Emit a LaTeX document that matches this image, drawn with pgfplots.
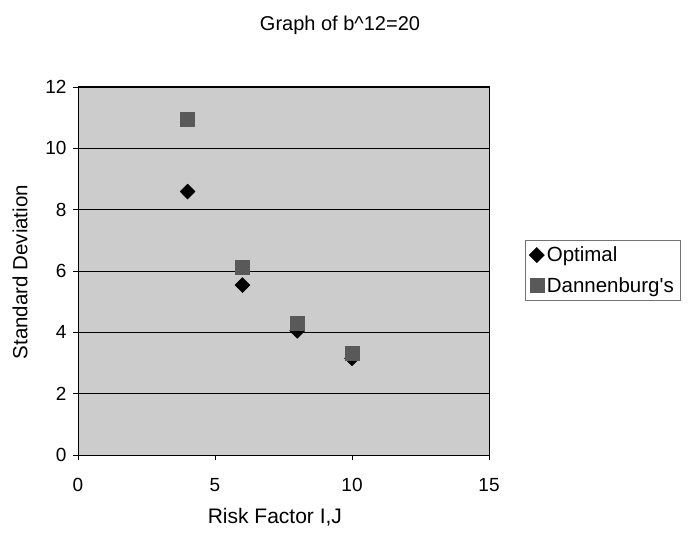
\documentclass[border=0pt]{standalone}
\usepackage{fontspec}
\setmainfont{Liberation Sans}
\usepackage{pgfplots}
\pgfplotsset{compat=1.18}
\begin{document}
\begin{tikzpicture}[x=1pt,y=1pt]
\path[use as bounding box] (0,0) rectangle (690,538);
\begin{axis}[
  at={(78pt,83pt)}, anchor=south west,
  scale only axis, width=411pt, height=368pt,
  xmin=0, xmax=15, ymin=0, ymax=12,
  xtick={0,5,10,15}, ytick={0,2,...,12},
  ymajorgrids, grid style={black, line width=0.9pt},
  axis background/.style={fill=black!20},
  axis line style={black, line width=1pt},
  tick align=outside, major tick length=5pt, tick style={black, line width=0.8pt},
  xtick pos=bottom, ytick pos=left,
  /pgf/number format/assume math mode=true,
  ticklabel style={font=\fontsize{19}{22}\selectfont},
  yticklabel style={xshift=-3pt},
  xticklabel style={yshift=-15pt},
  xlabel={Risk Factor I,J}, ylabel={Standard Deviation},
  xlabel style={font=\fontsize{21}{24}\selectfont, at={(axis description cs:0.479,-0.168)}, anchor=center},
  ylabel style={font=\fontsize{20.5}{24}\selectfont, at={(axis description cs:-0.141,0.497)}, anchor=center},
  legend style={at={(axis description cs:1.0876,0.584)}, anchor=north west,
    draw=black!55, fill=white, line width=0.6pt,
    font=\fontsize{20.5}{24}\selectfont, row sep=9pt, inner sep=4pt,
    nodes={inner sep=2.5pt}},
  legend cell align=left,
  legend image code/.code={\draw[#1] plot coordinates {(0.0cm,0cm)};},
]
\addplot[only marks, mark=diamond*, mark size=7.5pt, mark options={xscale=1.333}, black] coordinates {(4,8.59) (6,5.54) (8,4.05) (10,3.15)};
\addlegendentry{Optimal}
\addplot[only marks, mark=square*, mark size=7pt, draw=black!65, fill=black!65] coordinates {(4,10.95) (6,6.12) (8,4.3) (10,3.32)};
\addlegendentry{Dannenburg\textquotesingle s}
\end{axis}
\node[font=\fontsize{20}{24}\selectfont] at (340,513) {Graph of b\textasciicircum12=20};
\end{tikzpicture}
\end{document}
